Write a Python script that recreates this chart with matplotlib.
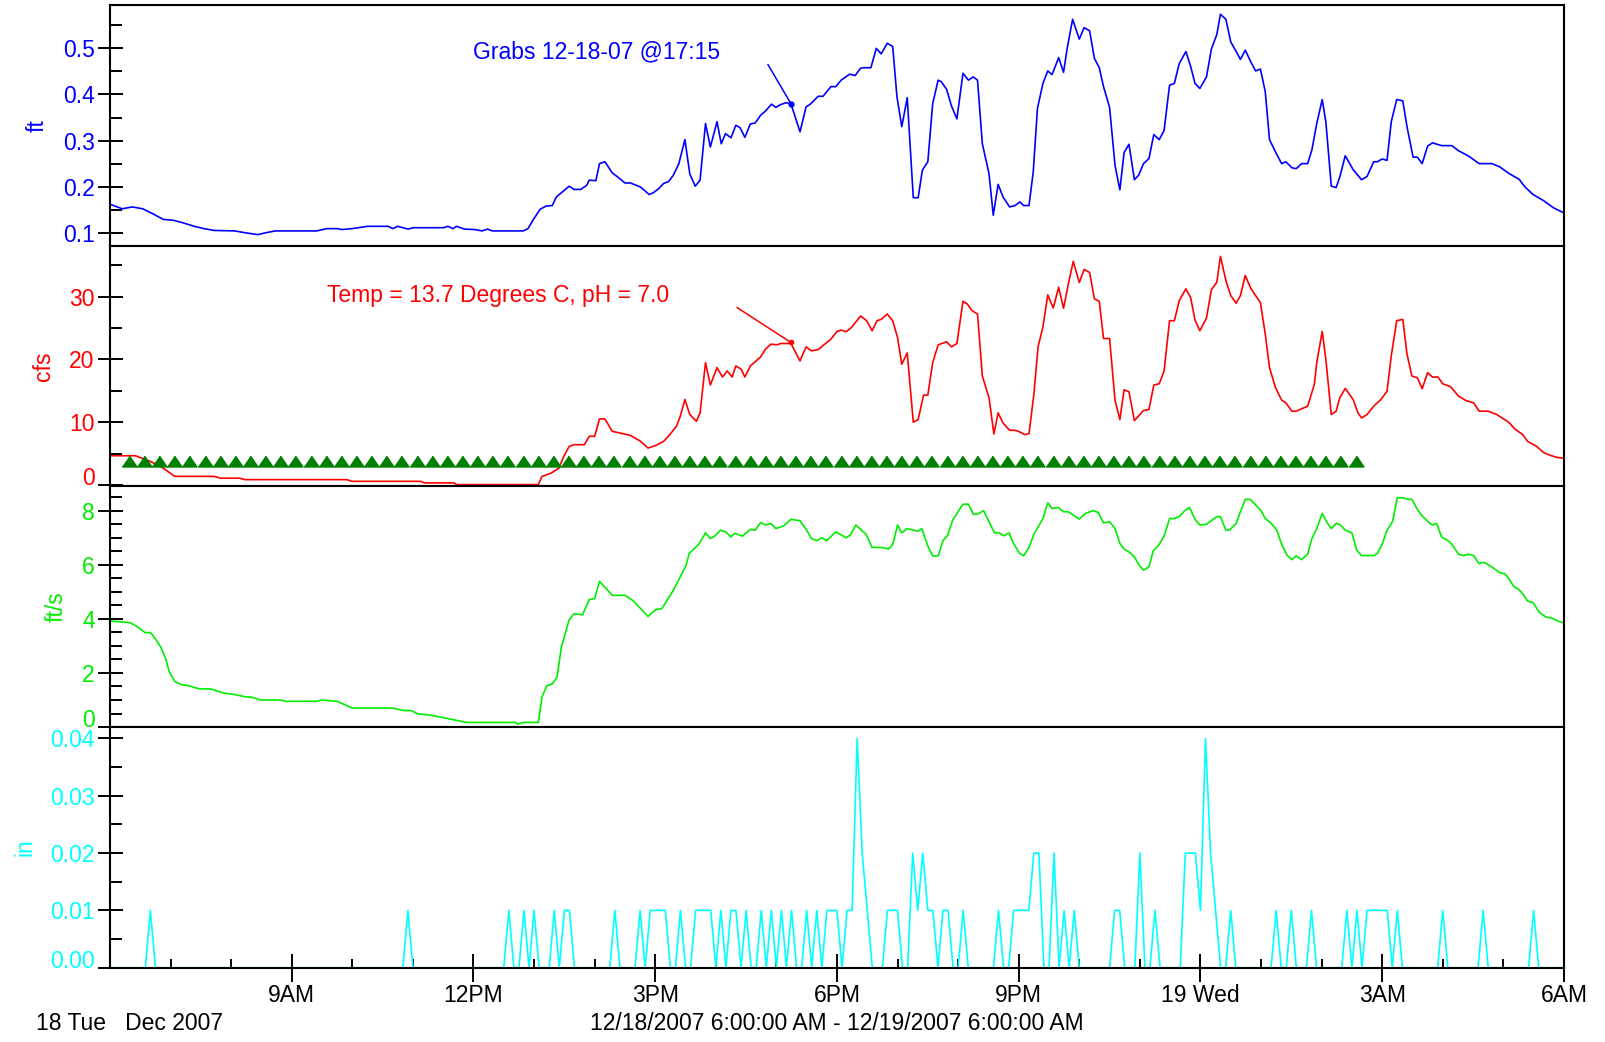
import numpy as np
import matplotlib.pyplot as plt
from matplotlib.ticker import FixedLocator, MultipleLocator, FormatStrFormatter

plt.rcParams['font.family'] = ['Liberation Sans', 'DejaVu Sans']

# hours after 12/18/2007 6:00 AM
depth_hr = [0, 0.2, 0.37, 0.54, 0.71, 0.88, 1.05, 1.22, 1.39, 1.55, 1.72, 2.06, 2.23, 2.44, 2.57, 2.73,
            3.41, 3.58, 3.75, 3.83, 4.0, 4.25, 4.59, 4.67, 4.75, 4.92, 5.01, 5.51, 5.58, 5.66, 5.72, 5.85,
            6.02, 6.14, 6.23, 6.31, 6.82, 6.90, 6.98, 7.10, 7.20, 7.30, 7.37, 7.58, 7.66, 7.77, 7.87, 7.91,
            8.02, 8.08, 8.17, 8.29, 8.38, 8.50, 8.59, 8.76, 8.90, 8.97, 9.05, 9.14, 9.22, 9.30, 9.39, 9.49,
            9.57, 9.66, 9.74, 9.83, 9.91, 10.02, 10.09, 10.16, 10.25, 10.33, 10.40, 10.48, 10.57, 10.65,
            10.74, 10.82, 10.92, 10.99, 11.07, 11.16, 11.24, 11.39, 11.49, 11.56, 11.69, 11.77, 11.90, 11.98,
            12.07, 12.21, 12.30, 12.39, 12.45, 12.56, 12.65, 12.73, 12.83, 12.92, 12.99, 13.07, 13.16, 13.26,
            13.34, 13.41, 13.50, 13.58, 13.67, 13.72, 13.81, 13.89, 13.98, 14.08, 14.17, 14.25, 14.32, 14.40,
            14.51, 14.58, 14.66, 14.74, 14.85, 14.94, 15.02, 15.08, 15.17, 15.24, 15.31, 15.40, 15.48, 15.55,
            15.66, 15.74, 15.80, 15.89, 16.00, 16.08, 16.17, 16.25, 16.33, 16.40, 16.50, 16.59, 16.67, 16.74,
            16.82, 16.91, 16.98, 17.06, 17.15, 17.23, 17.32, 17.40, 17.49, 17.57, 17.65, 17.76, 17.84, 17.91,
            17.99, 18.10, 18.18, 18.27, 18.33, 18.42, 18.50, 18.59, 18.66, 18.74, 18.83, 18.91, 18.99, 19.07,
            19.14, 19.24, 19.34, 19.41, 19.51, 19.58, 19.67, 19.77, 19.84, 19.92, 20.01, 20.07, 20.16, 20.24,
            20.30, 20.39, 20.52, 20.66, 20.75, 20.86, 20.92, 21.00, 21.08, 21.15, 21.24, 21.34, 21.41, 21.51,
            21.58, 21.66, 21.75, 21.83, 21.98, 22.15, 22.26, 22.43, 22.60, 22.81, 22.94, 23.10, 23.26, 23.36,
            23.49, 23.66, 23.83, 24.0]
depth_ft = [0.162, 0.152, 0.156, 0.152, 0.141, 0.129, 0.127, 0.121, 0.114, 0.109, 0.105, 0.104, 0.100,
            0.096, 0.100, 0.104, 0.104, 0.109, 0.109, 0.107, 0.109, 0.114, 0.114, 0.109, 0.114, 0.108,
            0.111, 0.111, 0.114, 0.109, 0.114, 0.108, 0.107, 0.104, 0.108, 0.104, 0.104, 0.109, 0.127,
            0.151, 0.158, 0.159, 0.178, 0.201, 0.194, 0.194, 0.203, 0.214, 0.213, 0.250, 0.254, 0.230,
            0.221, 0.208, 0.208, 0.199, 0.183, 0.187, 0.195, 0.207, 0.211, 0.225, 0.250, 0.302, 0.228,
            0.201, 0.214, 0.337, 0.286, 0.341, 0.293, 0.315, 0.306, 0.333, 0.328, 0.307, 0.336, 0.338,
            0.355, 0.364, 0.379, 0.372, 0.378, 0.382, 0.380, 0.319, 0.373, 0.379, 0.396, 0.396, 0.417,
            0.417, 0.431, 0.444, 0.441, 0.457, 0.458, 0.458, 0.500, 0.488, 0.511, 0.504, 0.395, 0.330,
            0.393, 0.176, 0.176, 0.236, 0.254, 0.380, 0.431, 0.428, 0.411, 0.375, 0.347, 0.446, 0.431,
            0.438, 0.431, 0.293, 0.228, 0.138, 0.205, 0.178, 0.156, 0.159, 0.167, 0.159, 0.159, 0.232,
            0.370, 0.424, 0.451, 0.443, 0.480, 0.448, 0.500, 0.563, 0.520, 0.545, 0.538, 0.478, 0.458,
            0.417, 0.372, 0.246, 0.193, 0.274, 0.292, 0.215, 0.225, 0.250, 0.261, 0.313, 0.302, 0.322,
            0.420, 0.424, 0.467, 0.493, 0.460, 0.424, 0.413, 0.438, 0.498, 0.530, 0.574, 0.563, 0.514,
            0.493, 0.476, 0.496, 0.471, 0.451, 0.455, 0.406, 0.302, 0.275, 0.250, 0.254, 0.241, 0.239,
            0.250, 0.250, 0.280, 0.337, 0.389, 0.341, 0.201, 0.198, 0.221, 0.267, 0.237, 0.215, 0.222,
            0.254, 0.254, 0.260, 0.257, 0.341, 0.389, 0.386, 0.330, 0.264, 0.264, 0.250, 0.288, 0.295,
            0.289, 0.289, 0.278, 0.266, 0.250, 0.250, 0.243, 0.228, 0.216, 0.199, 0.183, 0.170, 0.154, 0.143]

flow_hr = [0, 0.42, 0.67, 0.88, 1.05, 1.09, 1.72, 1.82, 2.14, 2.23, 3.91, 3.99, 5.13, 5.19, 5.68, 5.72,
           7.07, 7.13, 7.28, 7.41, 7.49, 7.58, 7.66, 7.83, 7.91, 8.0, 8.08, 8.17, 8.29, 8.42, 8.59, 8.76,
           8.88, 9.01, 9.14, 9.24, 9.35, 9.41, 9.49, 9.57, 9.68, 9.74, 9.83, 9.91, 10.02, 10.11, 10.19,
           10.27, 10.33, 10.42, 10.48, 10.57, 10.74, 10.82, 10.91, 11.01, 11.07, 11.24, 11.39, 11.49,
           11.58, 11.69, 11.81, 11.90, 12.0, 12.07, 12.15, 12.24, 12.39, 12.49, 12.58, 12.66, 12.73, 12.83,
           12.92, 13.0, 13.07, 13.16, 13.26, 13.34, 13.43, 13.50, 13.58, 13.67, 13.81, 13.89, 13.98, 14.08,
           14.15, 14.23, 14.32, 14.40, 14.51, 14.59, 14.66, 14.74, 14.85, 14.94, 15.02, 15.10, 15.17, 15.25,
           15.32, 15.40, 15.48, 15.57, 15.66, 15.74, 15.82, 15.90, 16.0, 16.08, 16.17, 16.25, 16.33, 16.40,
           16.50, 16.59, 16.67, 16.74, 16.82, 16.91, 17.06, 17.15, 17.23, 17.32, 17.40, 17.49, 17.57, 17.65,
           17.76, 17.84, 17.91, 17.99, 18.10, 18.18, 18.27, 18.33, 18.42, 18.50, 18.59, 18.66, 18.74, 18.83,
           18.91, 18.99, 19.07, 19.14, 19.24, 19.34, 19.41, 19.51, 19.58, 19.67, 19.77, 19.88, 19.92, 20.01,
           20.07, 20.16, 20.24, 20.30, 20.39, 20.52, 20.60, 20.66, 20.75, 20.86, 20.98, 21.08, 21.15, 21.24,
           21.34, 21.41, 21.49, 21.58, 21.66, 21.75, 21.83, 21.92, 22.0, 22.13, 22.26, 22.38, 22.51, 22.60,
           22.75, 22.89, 23.09, 23.19, 23.32, 23.40, 23.55, 23.66, 23.78, 23.89, 24.0]
flow_cfs = [4.67, 4.67, 3.76, 2.69, 1.5, 1.39, 1.39, 1.1, 1.1, 0.87, 0.87, 0.6, 0.6, 0.35, 0.35, 0.08,
            0.08, 1.36, 1.9, 2.7, 4.56, 6.16, 6.43, 6.43, 7.76, 7.76, 10.53, 10.53, 8.56, 8.29, 7.92, 6.96,
            5.89, 6.32, 6.96, 8.03, 9.36, 10.85, 13.63, 11.23, 10.16, 11.49, 19.49, 15.92, 18.69, 17.2,
            18.16, 17.2, 18.96, 18.43, 17.2, 18.96, 20.4, 21.63, 22.43, 22.32, 22.53, 22.53, 19.76, 22.0,
            21.36, 21.57, 22.53, 23.23, 24.45, 24.67, 24.4, 25.09, 26.91, 26.16, 24.56, 26.16, 26.37, 27.23,
            26.16, 23.49, 19.23, 21.04, 10.0, 10.43, 14.32, 14.32, 19.49, 22.32, 22.8, 22.0, 22.53, 29.25,
            28.83, 27.76, 27.23, 17.36, 13.89, 8.13, 11.49, 9.89, 8.72, 8.72, 8.45, 8.03, 8.19, 14.43,
            22.0, 25.2, 30.27, 28.19, 31.49, 28.13, 32.03, 35.6, 32.24, 34.32, 33.84, 29.63, 29.25, 23.33,
            23.33, 13.47, 10.43, 15.17, 14.85, 10.27, 11.87, 12.03, 15.92, 16.13, 18.16, 26.16, 26.16, 29.36,
            31.23, 29.79, 26.27, 24.56, 26.59, 31.07, 32.29, 36.4, 32.56, 30.16, 28.93, 30.16, 33.36, 31.33,
            30.16, 29.04, 24.03, 18.69, 15.49, 13.52, 13.09, 11.76, 11.76, 12.13, 12.56, 16.03, 19.49, 24.45,
            20.03, 11.23, 11.76, 13.89, 15.39, 13.63, 11.49, 10.69, 11.23, 12.56, 13.63, 14.96, 20.56, 26.16,
            26.37, 20.83, 17.36, 17.09, 15.33, 17.89, 17.2, 17.2, 16.13, 15.65, 14.16, 13.47, 13.09, 11.76,
            11.76, 11.23, 10.0, 8.93, 8.03, 6.96, 6.16, 5.2, 4.72, 4.4, 4.29]

vel_hr = [0, 0.21, 0.33, 0.46, 0.58, 0.67, 0.75, 0.84, 0.92, 0.98, 1.07, 1.17, 1.30, 1.47, 1.66, 1.89,
          2.06, 2.23, 2.35, 2.48, 2.82, 2.90, 3.41, 3.49, 3.58, 3.75, 4.0, 4.67, 4.84, 4.97, 5.09, 5.22,
          5.43, 5.60, 5.89, 6.69, 6.73, 6.82, 7.07, 7.13, 7.21, 7.30, 7.38, 7.45, 7.58, 7.66, 7.80, 7.91,
          8.0, 8.08, 8.29, 8.50, 8.63, 8.76, 8.88, 9.01, 9.11, 9.30, 9.51, 9.56, 9.72, 9.83, 9.91, 9.98,
          10.08, 10.16, 10.25, 10.31, 10.44, 10.57, 10.65, 10.74, 10.82, 10.91, 10.99, 11.12, 11.24, 11.39,
          11.49, 11.58, 11.67, 11.75, 11.83, 11.98, 12.15, 12.22, 12.31, 12.48, 12.58, 12.75, 12.85, 12.92,
          13.0, 13.07, 13.16, 13.34, 13.40, 13.50, 13.58, 13.67, 13.75, 13.83, 13.91, 14.0, 14.08, 14.17,
          14.25, 14.32, 14.42, 14.51, 14.60, 14.68, 14.76, 14.84, 14.91, 15.01, 15.08, 15.17, 15.25, 15.40,
          15.48, 15.55, 15.65, 15.74, 15.82, 16.0, 16.10, 16.23, 16.31, 16.40, 16.50, 16.59, 16.67, 16.74,
          16.82, 16.91, 16.99, 17.06, 17.15, 17.22, 17.31, 17.40, 17.49, 17.57, 17.65, 17.74, 17.82, 17.91,
          17.99, 18.10, 18.27, 18.33, 18.42, 18.48, 18.59, 18.66, 18.74, 18.82, 18.90, 19.0, 19.07, 19.16,
          19.26, 19.34, 19.43, 19.51, 19.58, 19.67, 19.77, 19.84, 19.92, 20.01, 20.09, 20.16, 20.24, 20.30,
          20.39, 20.50, 20.58, 20.66, 20.86, 20.92, 21.0, 21.08, 21.17, 21.25, 21.34, 21.42, 21.49, 21.58,
          21.66, 21.79, 21.83, 21.90, 21.98, 22.09, 22.15, 22.26, 22.34, 22.43, 22.51, 22.60, 22.68, 22.81,
          22.94, 23.02, 23.09, 23.17, 23.26, 23.34, 23.40, 23.49, 23.59, 23.70, 23.80, 23.91, 24.0]
vel_fps = [3.92, 3.88, 3.86, 3.70, 3.49, 3.49, 3.26, 2.95, 2.52, 2.03, 1.69, 1.57, 1.53, 1.41, 1.41, 1.25,
           1.20, 1.12, 1.10, 1.0, 1.0, 0.95, 0.95, 1.0, 0.98, 0.95, 0.70, 0.70, 0.61, 0.61, 0.48, 0.46,
           0.38, 0.30, 0.17, 0.17, 0.11, 0.17, 0.17, 1.10, 1.53, 1.59, 1.84, 2.95, 3.97, 4.19, 4.15, 4.71,
           4.75, 5.39, 4.87, 4.87, 4.68, 4.38, 4.09, 4.34, 4.38, 5.06, 5.98, 6.42, 6.76, 7.18, 6.97, 7.06,
           7.28, 7.22, 7.03, 7.16, 7.06, 7.31, 7.28, 7.56, 7.47, 7.53, 7.34, 7.44, 7.68, 7.63, 7.31, 6.97,
           6.89, 7.0, 6.89, 7.22, 7.0, 7.10, 7.47, 7.13, 6.64, 6.64, 6.58, 6.75, 7.47, 7.18, 7.34, 7.24,
           7.34, 6.69, 6.33, 6.33, 6.89, 7.10, 7.65, 7.96, 8.24, 8.24, 7.87, 7.87, 8.0, 7.59, 7.18, 7.18,
           7.07, 7.18, 6.81, 6.44, 6.33, 6.64, 7.13, 7.71, 8.29, 8.08, 8.12, 7.96, 7.96, 7.69, 7.90, 8.0,
           7.94, 7.55, 7.59, 7.34, 6.79, 6.58, 6.48, 6.29, 5.98, 5.80, 5.92, 6.51, 6.72, 7.06, 7.71, 7.71,
           7.78, 8.0, 8.12, 7.68, 7.47, 7.50, 7.78, 7.78, 7.28, 7.28, 7.53, 7.96, 8.42, 8.42, 8.24, 8.0,
           7.71, 7.55, 7.28, 6.76, 6.35, 6.19, 6.33, 6.19, 6.39, 6.97, 7.34, 7.90, 7.56, 7.34, 7.53, 7.49,
           7.28, 7.18, 6.54, 6.34, 6.34, 6.42, 6.76, 7.28, 7.59, 8.48, 8.48, 8.42, 8.42, 8.05, 7.80, 7.53,
           7.47, 7.53, 7.03, 6.89, 6.76, 6.39, 6.34, 6.39, 6.34, 6.04, 6.09, 5.92, 5.71, 5.67, 5.49, 5.20,
           5.08, 4.87, 4.66, 4.60, 4.25, 4.07, 4.03, 3.91, 3.84]

# rain: 5-minute intervals (index = minutes / 5), only the non-zero ones
rain_idx = [8, 59, 79, 82, 84, 88, 90, 91, 100, 105, 107, 108, 109, 110, 113, 116, 117, 118, 119, 121,
            123, 124, 126, 129, 131, 133, 135, 138, 140, 142, 143, 144, 146, 147, 148, 149, 150, 154, 155,
            156, 159, 160, 161, 162, 163, 165, 166, 169, 176, 179, 180, 181, 182, 183, 184, 187, 189, 191,
            199, 200, 204, 207, 213, 214, 215, 216, 217, 218, 219, 222, 231, 234, 238, 245, 247, 249, 250,
            251, 252, 253, 255, 264, 272, 282]
rain_in = [0.01, 0.01, 0.01, 0.01, 0.01, 0.01, 0.01, 0.01, 0.01, 0.01, 0.01, 0.01, 0.01, 0.01, 0.01, 0.01,
           0.01, 0.01, 0.01, 0.01, 0.01, 0.01, 0.01, 0.01, 0.01, 0.01, 0.01, 0.01, 0.01, 0.01, 0.01, 0.01,
           0.01, 0.01, 0.04, 0.02, 0.01, 0.01, 0.01, 0.01, 0.02, 0.01, 0.02, 0.01, 0.01, 0.01, 0.01, 0.01,
           0.01, 0.01, 0.01, 0.01, 0.01, 0.02, 0.02, 0.02, 0.01, 0.01, 0.01, 0.01, 0.02, 0.01, 0.02, 0.02,
           0.02, 0.01, 0.04, 0.02, 0.01, 0.01, 0.01, 0.01, 0.01, 0.01, 0.01, 0.01, 0.01, 0.01, 0.01, 0.01,
           0.01, 0.01, 0.01, 0.01]

# sampling markers (hours)
sample_hr = [0.31, 0.56, 0.81, 1.06, 1.31, 1.56, 1.81, 2.06, 2.31, 2.56, 2.81, 3.06, 3.31, 3.56, 3.81,
             4.06, 4.31, 4.56, 4.81, 5.06, 5.31, 5.56, 5.81, 6.06, 6.31, 6.56, 6.81, 7.06, 7.31, 7.56,
             7.81, 8.06, 8.31, 8.56, 8.81, 9.06, 9.31, 9.56, 9.81, 10.06, 10.31, 10.56, 10.81, 11.06,
             11.31, 11.56, 11.81, 12.06, 12.31, 12.56, 12.81, 13.06, 13.31, 13.56, 13.81, 14.06, 14.31,
             14.56, 14.81, 15.06, 15.31, 15.56, 15.81, 16.06, 16.31, 16.56, 16.81, 17.06, 17.31, 17.56,
             17.81, 18.06, 18.31, 18.56, 18.81, 19.06, 19.31, 19.56, 19.81, 20.06, 20.31, 20.56]
sample_level = 3.9

xtick_hr = [3, 6, 9, 12, 15, 18, 21, 24]
xtick_labels = ['9AM', '12PM', '3PM', '6PM', '9PM', '19 Wed', '3AM', '6AM']

rain = np.zeros(289)
rain[rain_idx] = rain_in
rain_hr = np.arange(289) / 12.0

BLUE, RED, LIME, CYAN, DKGREEN = '#0000ff', '#ff0000', '#00ee00', '#00ffff', '#008000'
FS = 16.5

fig, axs = plt.subplots(4, 1, sharex=True, figsize=(16.06, 10.42), dpi=100)
fig.subplots_adjust(left=0.0685, right=0.9738, top=0.9952, bottom=0.0713, hspace=0)
ax1, ax2, ax3, ax4 = axs

ax1.plot(depth_hr, depth_ft, color=BLUE, lw=1.2)
ax2.plot(flow_hr, flow_cfs, color=RED, lw=1.2)
tri = [(-1, -0.73), (1, -0.73), (0, 0.73)]
ax2.plot(sample_hr, [sample_level] * len(sample_hr), ls='none', marker=tri, ms=10.8,
         color=DKGREEN, mec=DKGREEN)
ax3.plot(vel_hr, vel_fps, color=LIME, lw=1.2)
ax4.plot(rain_hr, rain, color=CYAN, lw=1.2)

ax1.set_ylim(0.072, 0.594)
ax2.set_ylim(-0.2, 38.1)
ax3.set_ylim(0, 8.9)
ax4.set_ylim(0, 0.042)
ax4.set_xlim(0, 24)

ax1.yaxis.set_major_locator(FixedLocator([0.1, 0.2, 0.3, 0.4, 0.5]))
ax1.yaxis.set_minor_locator(MultipleLocator(0.05))
ax1.yaxis.set_major_formatter(FormatStrFormatter('%.1f'))
ax2.yaxis.set_major_locator(FixedLocator([0, 10, 20, 30]))
ax2.yaxis.set_minor_locator(MultipleLocator(5))
ax3.yaxis.set_major_locator(FixedLocator([0, 2, 4, 6, 8]))
ax3.yaxis.set_minor_locator(MultipleLocator(0.5))
ax4.yaxis.set_major_locator(FixedLocator([0, 0.01, 0.02, 0.03, 0.04]))
ax4.yaxis.set_minor_locator(MultipleLocator(0.005))
ax4.yaxis.set_major_formatter(FormatStrFormatter('%.2f'))

ax4.xaxis.set_major_locator(FixedLocator(xtick_hr))
ax4.xaxis.set_minor_locator(MultipleLocator(1))
ax4.set_xticklabels(xtick_labels)

for ax, col, lab in zip(axs, [BLUE, RED, LIME, CYAN], ['ft', 'cfs', 'ft/s', 'in']):
    for s in ax.spines.values():
        s.set_linewidth(1.5)
    ax.tick_params(axis='y', which='major', direction='inout', length=18, width=1.4,
                   pad=2, labelsize=FS, labelcolor=col)
    ax.tick_params(axis='y', which='minor', direction='in', length=8.6, width=1.4)
    ax.tick_params(axis='x', which='both', bottom=False, labelbottom=False)
    ax.set_ylabel(lab, color=col, fontsize=FS, labelpad=10)

ax4.tick_params(axis='x', which='major', bottom=True, labelbottom=True, direction='inout',
                length=20, width=1.4, pad=2, labelsize=FS)
ax4.tick_params(axis='x', which='minor', bottom=True, direction='in', length=6.8, width=1.4)

# bottom labels sit above the tick, like the original
for ax in (ax2, ax3, ax4):
    ax.yaxis.get_major_ticks()[0].label1.set_verticalalignment('baseline')

# annotations
ax1.annotate('', xy=(11.24, 0.380), xytext=(10.86, 0.465),
             arrowprops=dict(arrowstyle='-', color=BLUE, lw=1.1, shrinkA=0, shrinkB=0))
ax1.plot([11.24], [0.380], 'o', color=BLUE, ms=3.5)
ax1.text(5.99, 0.492, 'Grabs 12-18-07 @17:15', color=BLUE, fontsize=FS, va='center', ha='left')

ax2.annotate('', xy=(11.24, 22.7), xytext=(10.35, 28.26),
             arrowprops=dict(arrowstyle='-', color=RED, lw=1.1, shrinkA=0, shrinkB=0))
ax2.plot([11.24], [22.7], 'o', color=RED, ms=3)
ax2.text(3.59, 30.16, 'Temp = 13.7 Degrees C, pH = 7.0', color=RED, fontsize=FS, va='center', ha='left')

fig.text(0.0224, 0.0182, '18 Tue   Dec 2007', fontsize=FS, va='center', ha='left')
fig.text(0.521, 0.0182, '12/18/2007 6:00:00 AM - 12/19/2007 6:00:00 AM', fontsize=FS,
         va='center', ha='center')

fig.savefig('out.png', dpi=100)
